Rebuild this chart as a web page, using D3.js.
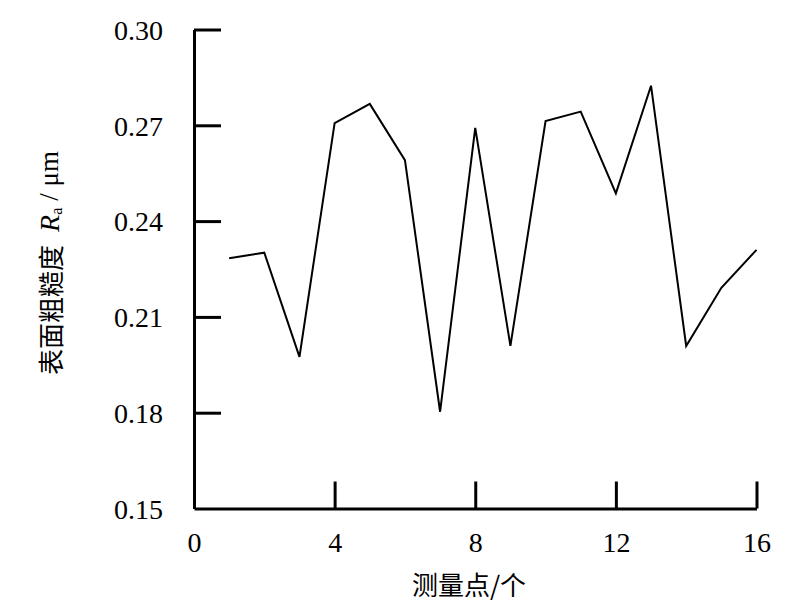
<!DOCTYPE html>
<html><head><meta charset="utf-8">
<script src="https://cdn.jsdelivr.net/npm/d3@7"></script>
<style>body{margin:0;background:#fff}svg{display:block}</style>
</head><body>
<script>
const points = [1,2,3,4,5,6,7,8,9,10,11,12,13,14,15,16];
const roughness = [0.2284,0.2301,0.1975,0.2707,0.2767,0.2591,0.1803,0.2692,0.2009,0.2713,0.2743,0.2487,0.2824,0.2009,0.2191,0.2310];
const xTicks = [0,4,8,12,16];
const yTicks = [0.15,0.18,0.21,0.24,0.27,0.30];
const xTitle = "测量点/个";

const W=804,H=610;
const svg=d3.select("body").append("svg").attr("width",W).attr("height",H);
const x=d3.scaleLinear().domain([0,16]).range([194,756.5]);
const y=d3.scaleLinear().domain([0.15,0.30]).range([508.5,29.5]);
const serif="'Liberation Serif','Times New Roman',serif";

const gy=svg.append("g").attr("transform",`translate(${x(0)},0)`)
  .call(d3.axisLeft(y).tickValues(yTicks).tickSizeInner(-27).tickSizeOuter(0).tickPadding(31).tickFormat(d3.format(".2f")));
const gx=svg.append("g").attr("transform",`translate(0,${y(0.15)})`)
  .call(d3.axisBottom(x).tickValues(xTicks).tickSizeInner(-27).tickSizeOuter(0).tickPadding(24).tickFormat(d3.format("d")));
[gy,gx].forEach(g=>{
  g.selectAll("path,line").attr("stroke","#000").attr("stroke-width",3);
  g.selectAll("text").attr("font-family",serif).attr("font-size",28).attr("fill","#000");
  g.attr("font-family",null).attr("font-size",null);
});
gx.selectAll(".tick").filter(d=>d===0).select("line").remove();
gy.selectAll(".tick").filter(d=>d===0.15).select("line").remove();
gy.selectAll(".tick text").attr("dy","0.35em");

const line=d3.line().x((d,i)=>x(points[i])).y(d=>y(d));
svg.append("path").datum(roughness).attr("d",line).attr("fill","none")
  .attr("stroke","#000").attr("stroke-width",2).attr("stroke-linejoin","miter");

svg.append("text").attr("x",469).attr("y",595).attr("text-anchor","middle")
  .attr("font-family","'Noto Sans CJK SC',sans-serif").attr("font-size",26).attr("fill","#000").text(xTitle);

const yl=svg.append("text").attr("transform","translate(49,263) rotate(-90)")
  .attr("text-anchor","middle").attr("dominant-baseline","central").attr("fill","#000").attr("font-size",26);
yl.append("tspan").attr("font-family","'Noto Sans CJK SC',sans-serif").text("表面粗糙度");
yl.append("tspan").attr("font-family",serif).attr("font-style","italic").attr("font-size",28).attr("dx",13).text("R");
yl.append("tspan").attr("font-family",serif).attr("font-size",16).attr("dy",7).text("a");
yl.append("tspan").attr("font-family",serif).attr("font-size",27).attr("dy",-7).attr("dx",7).text("/ μm");
</script>
</body></html>
